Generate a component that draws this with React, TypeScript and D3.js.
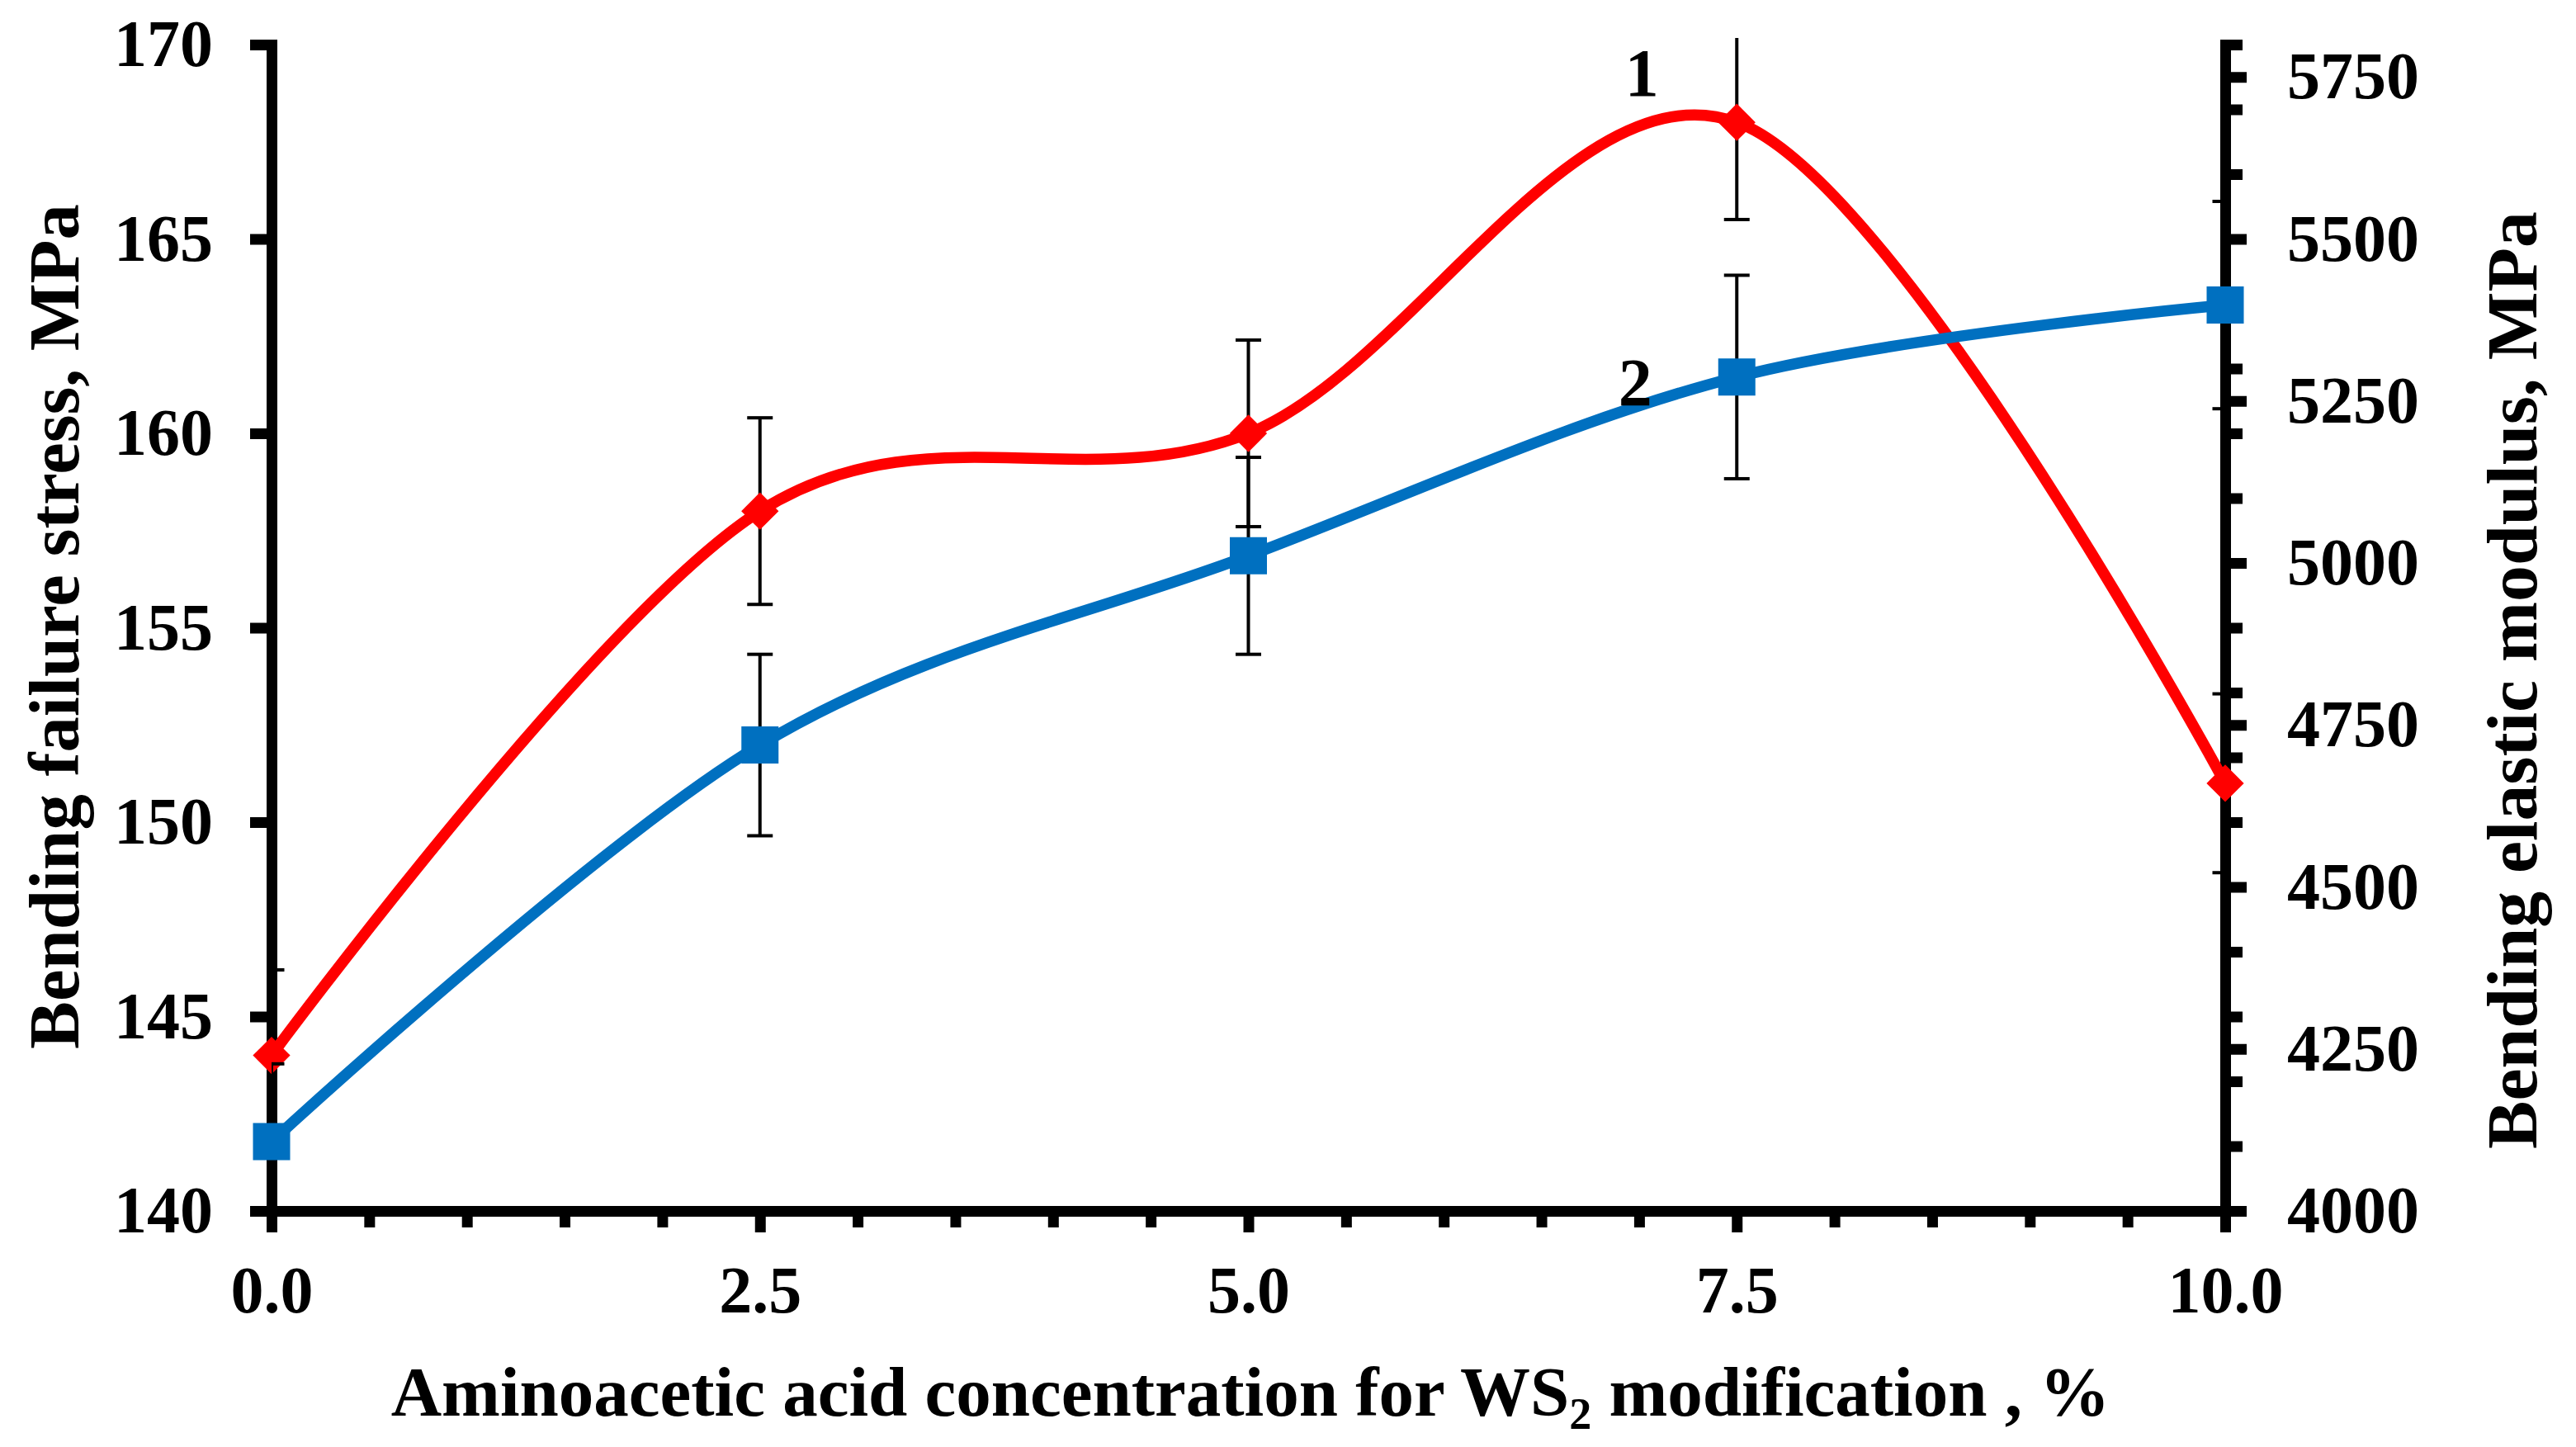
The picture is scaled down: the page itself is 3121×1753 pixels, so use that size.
import React, { useRef, useEffect } from "react";
import * as d3 from "d3";

// x: aminoacetic acid concentration, %
const concentrations = [0, 2.5, 5, 7.5, 10];

// curve 1: bending failure stress, MPa (left axis)
const failureStress = [144, 158, 160, 168, 151];
const failureStressErr = [2.2, 2.4, 2.4, 2.5, 2.3];

// curve 2: bending elastic modulus, MPa (right axis)
const elasticModulus = [4107, 4719, 5011, 5287, 5398];
const elasticModulusErr = [120, 140, 152, 157, 160];

// tick values / labels
const xTicks = [0, 2.5, 5, 7.5, 10];
const xTickLabels = ["0.0", "2.5", "5.0", "7.5", "10.0"];
const leftTicks = [140, 145, 150, 155, 160, 165, 170];
const rightTicks = [4000, 4250, 4500, 4750, 5000, 5250, 5500, 5750];

const W = 3121;
const H = 1753;
const FONT = "'Liberation Serif', 'Times New Roman', serif";
const RED = "#FF0000";
const BLUE = "#0070C0";

const App = () => {
  const svgRef = useRef<SVGSVGElement | null>(null);

  useEffect(() => {
    if (!svgRef.current) return;
    const svg = d3.select(svgRef.current);
    svg.selectAll("*").remove();

    const x = d3.scaleLinear().domain([0, 10]).range([329, 2696]);
    const yL = d3.scaleLinear().domain([140, 170]).range([1467, 54]);
    const yR = d3.scaleLinear().domain([4000, 5800]).range([1467, 54]);

    svg.append("rect").attr("width", W).attr("height", H).attr("fill", "#fff");

    // plot area clip (error bars are cut at the axes, like the original)
    svg
      .append("defs")
      .append("clipPath")
      .attr("id", "plot-clip")
      .append("rect")
      .attr("x", x(0))
      .attr("y", 46)
      .attr("width", x(10) - x(0))
      .attr("height", yL(140) - 46);

    const styleAxis = (g: any, showDomain: boolean) => {
      g.attr("font-family", FONT).attr("font-size", 80).attr("font-weight", "bold");
      g.selectAll("line").attr("stroke", "#000").attr("stroke-width", 13);
      if (showDomain) {
        g.select(".domain")
          .attr("stroke", "#000")
          .attr("stroke-width", 13)
          .attr("stroke-linecap", "square");
      } else {
        g.select(".domain").remove();
      }
      g.selectAll("text").attr("fill", "#000");
    };

    /** minor ticks first, majors on top */
    const xMinor = d3.range(0, 10.01, 0.5).filter((v) => !xTicks.includes(v));
    svg
      .append("g")
      .attr("transform", `translate(0,${yL(140)})`)
      .call(d3.axisBottom(x).tickValues(xMinor).tickSize(20).tickFormat(() => ""))
      .call((g) => styleAxis(g, false));

    const rMinor = d3.range(4000, 5801, 100).filter((v) => v % 250 !== 0);
    svg
      .append("g")
      .attr("transform", `translate(${x(10)},0)`)
      .call(d3.axisRight(yR).tickValues(rMinor).tickSize(21).tickFormat(() => ""))
      .call((g) => styleAxis(g, false));

    // left axis
    svg
      .append("g")
      .attr("transform", `translate(${x(0)},0)`)
      .call(
        d3
          .axisLeft(yL)
          .tickValues(leftTicks)
          .tickSize(26)
          .tickSizeOuter(0)
          .tickPadding(45)
          .tickFormat(d3.format("d"))
      )
      .call((g) => styleAxis(g, true));

    // right axis
    svg
      .append("g")
      .attr("transform", `translate(${x(10)},0)`)
      .call(
        d3
          .axisRight(yR)
          .tickValues(rightTicks)
          .tickSize(26)
          .tickSizeOuter(0)
          .tickPadding(49)
          .tickFormat(d3.format("d"))
      )
      .call((g) => styleAxis(g, true));

    // bottom axis
    svg
      .append("g")
      .attr("transform", `translate(0,${yL(140)})`)
      .call(
        d3
          .axisBottom(x)
          .tickValues(xTicks)
          .tickSize(26)
          .tickSizeOuter(0)
          .tickPadding(40)
          .tickFormat((d, i) => xTickLabels[i])
      )
      .call((g) => styleAxis(g, true));

    /** series: error bars, smoothed line, markers */
    const drawSeries = (
      values: number[],
      errors: number[],
      y: d3.ScaleLinear<number, number>,
      color: string,
      marker: { size: number; rotate: number }
    ) => {
      const bars = svg
        .append("g")
        .attr("clip-path", "url(#plot-clip)")
        .attr("stroke", "#000")
        .attr("stroke-width", 4);
      values.forEach((v, i) => {
        const cx = x(concentrations[i]);
        const top = y(v + errors[i]);
        const bot = y(v - errors[i]);
        bars.append("line").attr("x1", cx).attr("x2", cx).attr("y1", top).attr("y2", bot);
        [top, bot].forEach((cy) =>
          bars
            .append("line")
            .attr("x1", cx - 15.5)
            .attr("x2", cx + 15.5)
            .attr("y1", cy)
            .attr("y2", cy)
        );
      });

      const line = d3
        .line<number>()
        .x((d, i) => x(concentrations[i]))
        .y((d) => y(d))
        .curve(d3.curveCardinal.tension(0));
      svg
        .append("path")
        .datum(values)
        .attr("d", line)
        .attr("fill", "none")
        .attr("stroke", color)
        .attr("stroke-width", 13.5);

      const sym = d3.symbol().type(d3.symbolSquare).size(marker.size);
      svg
        .append("g")
        .selectAll("path")
        .data(values)
        .enter()
        .append("path")
        .attr("d", sym() as string)
        .attr(
          "transform",
          (d, i) => `translate(${x(concentrations[i])},${y(d)}) rotate(${marker.rotate})`
        )
        .attr("fill", color);
    };

    drawSeries(failureStress, failureStressErr, yL, RED, { size: 1024, rotate: 45 });
    drawSeries(elasticModulus, elasticModulusErr, yR, BLUE, { size: 2025, rotate: 0 });

    // curve numbers
    const note = svg
      .append("g")
      .attr("font-family", FONT)
      .attr("font-size", 82)
      .attr("font-weight", "bold")
      .attr("text-anchor", "middle");
    note.append("text").attr("x", x(7.5) - 115).attr("y", 116).text("1");
    note.append("text").attr("x", x(7.5) - 123).attr("y", 491).text("2");

    /** axis titles */
    const titles = svg
      .append("g")
      .attr("font-family", FONT)
      .attr("font-size", 86)
      .attr("font-weight", "bold")
      .attr("fill", "#000");

    // x title, WS2 with a subscript
    const xt = titles
      .append("text")
      .attr("x", 1515)
      .attr("y", 1715)
      .attr("font-size", 85)
      .attr("text-anchor", "middle");
    xt.append("tspan").text("Aminoacetic acid concentration for WS");
    xt.append("tspan").attr("font-size", 54).attr("baseline-shift", "-16").text("2");
    xt.append("tspan").text(" modification , %");

    titles
      .append("text")
      .attr("transform", "translate(95,759) rotate(-90)")
      .attr("text-anchor", "middle")
      .attr("textLength", 1024)
      .attr("lengthAdjust", "spacingAndGlyphs")
      .text("Bending failure stress, MPa");

    titles
      .append("text")
      .attr("transform", "translate(3073,824) rotate(-90)")
      .attr("text-anchor", "middle")
      .attr("textLength", 1136)
      .attr("lengthAdjust", "spacingAndGlyphs")
      .text("Bending elastic modulus, MPa");
  }, []);

  return (
    <svg
      ref={svgRef}
      width={W}
      height={H}
      viewBox={`0 0 ${W} ${H}`}
      style={{ position: "absolute", left: 0, top: 0, display: "block" }}
    />
  );
};

export default App;
